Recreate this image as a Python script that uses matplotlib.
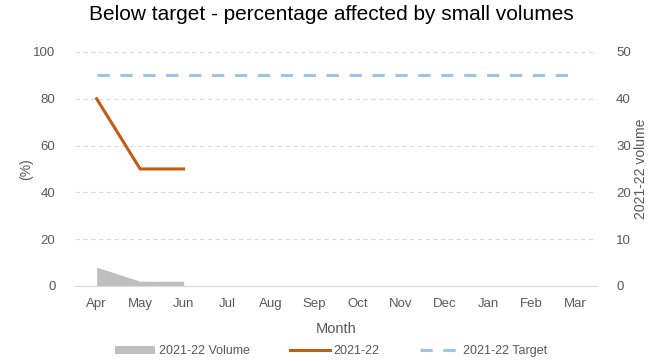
import numpy as np
import matplotlib
matplotlib.use("Agg")
import matplotlib.pyplot as plt
from matplotlib.patches import Patch
from matplotlib.lines import Line2D

months = ["Apr", "May", "Jun", "Jul", "Aug", "Sep", "Oct", "Nov", "Dec", "Jan", "Feb", "Mar"]
pct_2122 = [80, 50, 50]
volume_2122 = [4, 1, 1]
target_2122 = [90] * 12

plt.rcParams['font.family'] = ['Liberation Sans', 'DejaVu Sans']
txt = "#595959"

fig = plt.figure(figsize=(6.63, 3.61), dpi=100)
ax = fig.add_axes([0.113, 0.208, 0.787, 0.648])
ax2 = ax.twinx()

x = np.arange(len(months))

# volume area on the secondary axis
ax2.fill_between(x[:len(volume_2122)], volume_2122, 0, color="#BFBFBF", lw=0)
ax2.set_ylim(0, 50)
ax2.set_yticks(range(0, 51, 10))

ax.set_zorder(ax2.get_zorder() + 1)
ax.patch.set_visible(False)

ax.plot(x[:len(pct_2122)], pct_2122, color="#C55A11", lw=2.2)
ax.plot(x, target_2122, color="#9DC3E6", lw=2.2, dashes=(4, 3.5))

ax.set_xlim(-0.5, 11.5)
ax.set_ylim(0, 100)
ax.set_yticks(range(0, 101, 20))
ax.set_xticks(x)
ax.set_xticklabels(months)
ax.yaxis.grid(True, color="#D9D9D9", ls=(0, (4, 3)), lw=0.8)

for a in (ax, ax2):
    for s in a.spines.values():
        s.set_visible(False)
    a.tick_params(length=0, colors=txt, labelsize=9.5)
ax.spines['bottom'].set_visible(True)
ax.spines['bottom'].set_color("#D9D9D9")
ax.tick_params(axis='y', pad=14)
ax2.tick_params(axis='y', pad=14)
ax.tick_params(axis='x', pad=9)

ax.set_ylabel("(%)", color=txt, fontsize=10, labelpad=0)
ax2.set_ylabel("2021-22 volume", color=txt, fontsize=10, labelpad=2)
ax.set_xlabel("Month", color=txt, fontsize=10.5, labelpad=8)
fig.suptitle("Below target - percentage affected by small volumes", fontsize=15, y=0.985)

handles = [
    Patch(facecolor="#BFBFBF", label="2021-22 Volume"),
    Line2D([], [], color="#C55A11", lw=2.2, label="2021-22"),
    Line2D([], [], color="#9DC3E6", lw=2.2, dashes=(4, 3.5), label="2021-22 Target"),
]
fig.legend(handles=handles, loc="lower center", ncol=3, frameon=False,
           bbox_to_anchor=(0.5, -0.02), fontsize=9, labelcolor=txt,
           handlelength=3.2, handleheight=0.6, handletextpad=0.3, columnspacing=3.2)

fig.savefig("out.png", dpi=100)
